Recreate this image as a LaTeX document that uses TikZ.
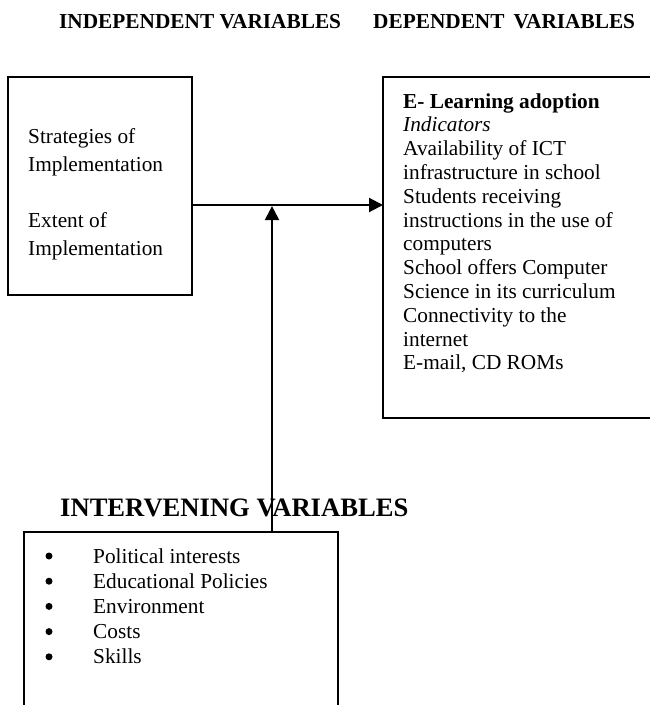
\documentclass[tikz,border=0pt]{standalone}
\usepackage{fontspec}
\setmainfont{Liberation Serif}
\usetikzlibrary{arrows.meta}

\begin{document}
\begin{tikzpicture}[x=1pt,y=-1pt,>={Triangle[length=14pt,width=14pt]},
  box/.style={draw,line width=1.3pt,inner sep=0pt,outer sep=0pt,anchor=north west},
  link/.style={line width=2.2pt},
  body/.style={inner sep=0pt,anchor=base west,font=\fontsize{21.3}{24}\selectfont},
  head/.style={inner sep=0pt,anchor=base west,font=\fontsize{21.3}{24}\selectfont\bfseries}]
  \useasboundingbox (0,0) rectangle (650,705);
  \clip (0,0) rectangle (650,705);
  % headings
  \node[head] (indep) at (59,28) {INDEPENDENT VARIABLES};
  \node[head] (dep) at (373,28) {DEPENDENT\hspace{9pt}VARIABLES};
  % boxes
  \node[box,minimum width=184pt,minimum height=218pt] (impl) at (8,77) {};
  \node[box,minimum width=290pt,minimum height=341pt] (adopt) at (383,77) {};
  \node[box,minimum width=314pt,minimum height=200pt] (interv) at (24,532) {};
  % independent
  \node[body] (impl-0) at (28,143) {Strategies of};
  \node[body] (impl-1) at (28,171) {Implementation};
  \node[body] (impl-2) at (28,227) {Extent of};
  \node[body] (impl-3) at (28,255) {Implementation};
  % dependent
  \node[body,font=\fontsize{21.3}{24}\selectfont\bfseries] (adopt-t) at (403,108) {E- Learning adoption};
  \node[body,font=\fontsize{21.3}{24}\selectfont\itshape] (adopt-i) at (403,131.8) {Indicators};
  \foreach \txt [count=\i from 0] in {Availability of ICT,infrastructure in school,
    Students receiving,instructions in the use of,computers,School offers Computer,
    Science in its curriculum,Connectivity to the,internet,{E-mail, CD ROMs}}
  {
    \node[body] (adopt-\i) at (403,155.6+23.8*\i) {\txt};
  }
  % intervening
  \node[head,font=\fontsize{26.6}{30}\selectfont\bfseries] (intervtitle) at (60,516) {INTERVENING VARIABLES};
  \foreach \txt [count=\i from 0] in {Political interests,Educational Policies,Environment,Costs,Skills}
  {
    \fill (49,556+25.2*\i) circle (3.5pt);
    \node[body] (interv-\i) at (93,563+25.2*\i) {\txt};
  }
  % arrows
  \coordinate (join) at (272,205);
  \draw[link,->] (impl.east |- join) -- (adopt.west |- join);
  \draw[link,->] (interv.north -| join) -- ([yshift=-1.1pt]join);
\end{tikzpicture}
\end{document}
